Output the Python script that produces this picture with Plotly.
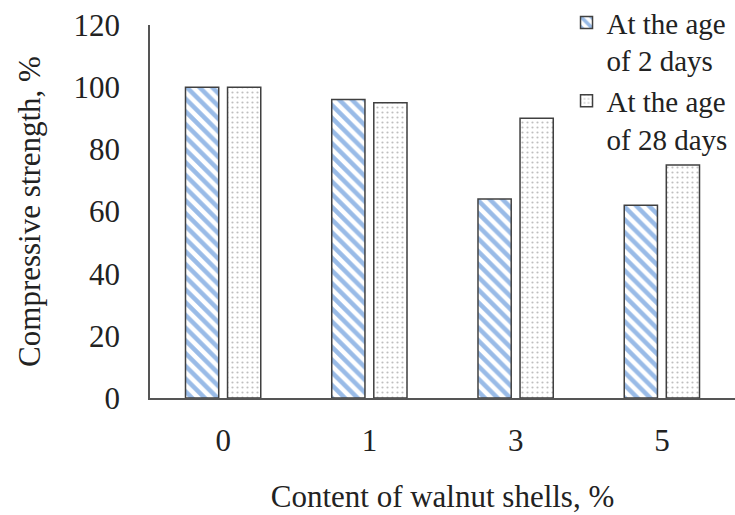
import plotly.graph_objects as go

categories = ["0", "1", "3", "5"]
age_2_days = [100, 96, 64, 62]
age_28_days = [100, 95, 90, 75]
y_ticks = [0, 20, 40, 60, 80, 100, 120]

FONT = "Liberation Serif, Times New Roman, serif"
TXT = "#222222"
FS = 31

fig = go.Figure()
fig.add_trace(go.Bar(
    x=categories, y=age_2_days, name="At the age<br>of 2 days",
    marker=dict(color="white",
                line=dict(color="#404040", width=1.5),
                pattern=dict(shape="\\", fgcolor="#3478d0", bgcolor="white",
                             size=9, solidity=0.5)),
))
fig.add_trace(go.Bar(
    x=categories, y=age_28_days, name="At the age<br>of 28 days",
    marker=dict(color="white",
                line=dict(color="#404040", width=1.5),
                pattern=dict(shape=".", fgcolor="#808080", bgcolor="white",
                             size=5, solidity=0.15)),
))

fig.update_layout(
    width=735, height=515,
    margin=dict(l=150, r=0, t=25, b=117, autoexpand=False),
    paper_bgcolor="white", plot_bgcolor="white",
    barmode="group", bargap=0.425, bargroupgap=0.21,
    font=dict(family=FONT, size=FS, color=TXT),
    showlegend=True,
    legend=dict(x=0.712, y=1.075, xanchor="left", yanchor="top",
                bgcolor="rgba(0,0,0,0)", font=dict(size=29, family=FONT, color=TXT),
                valign="top", itemwidth=30),
    xaxis=dict(showline=True, linecolor="#555555", linewidth=1.5, automargin=False,
               showgrid=False, ticks="", ticklabelstandoff=14,
               tickfont=dict(size=FS, family=FONT, color=TXT),
               title=dict(text="Content of walnut shells, %", standoff=28,
                          font=dict(size=FS, family=FONT, color=TXT)),
               range=[-0.5, 3.5]),
    yaxis=dict(showline=True, linecolor="#555555", linewidth=1.5, automargin=False,
               showgrid=False, ticks="", range=[0, 120], tickvals=y_ticks,
               ticklabelstandoff=22,
               tickfont=dict(size=FS, family=FONT, color=TXT),
               title=dict(text="Compressive strength, %", standoff=24,
                          font=dict(size=FS, family=FONT, color=TXT))),
)

fig.write_html("out.html", config={"displayModeBar": False},
               post_script="document.body.style.margin='0';")
